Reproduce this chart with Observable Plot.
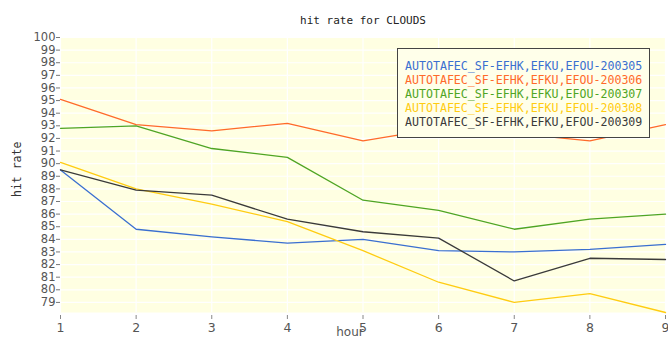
<!DOCTYPE html>
<html>
<head>
<meta charset="utf-8">
<script src="https://cdn.jsdelivr.net/npm/d3@7"></script>
<script src="https://cdn.jsdelivr.net/npm/@observablehq/plot@0.6"></script>
<style>
  body { margin: 0; background: #fff; }
  #wrap { position: relative; width: 668px; height: 342px; }
  #legend {
    position: absolute; left: 397px; top: 48px; width: 253px; height: 90px;
    border: 1.5px solid #444; background: #ffffea; box-sizing: border-box;
    font-family: "DejaVu Sans Mono", monospace; font-size: 11.6px; line-height: 14px;
    padding: 10px 0 0 7px; white-space: nowrap;
  }
</style>
</head>
<body>
<div id="wrap"></div>
<script>
const hours = [1, 2, 3, 4, 5, 6, 7, 8, 9];
const seriesNames = [
  "AUTOTAFEC_SF-EFHK,EFKU,EFOU-200305",
  "AUTOTAFEC_SF-EFHK,EFKU,EFOU-200306",
  "AUTOTAFEC_SF-EFHK,EFKU,EFOU-200307",
  "AUTOTAFEC_SF-EFHK,EFKU,EFOU-200308",
  "AUTOTAFEC_SF-EFHK,EFKU,EFOU-200309"
];
const seriesColors = ["#3a6fd0", "#ff6a2a", "#4fa524", "#ffcc11", "#3a3a3a"];
const v200305 = [89.5, 84.8, 84.2, 83.7, 84.0, 83.1, 83.0, 83.2, 83.6];
const v200306 = [95.1, 93.1, 92.6, 93.2, 91.8, 92.8, 92.4, 91.8, 93.1];
const v200307 = [92.8, 93.0, 91.2, 90.5, 87.1, 86.3, 84.8, 85.6, 86.0];
const v200308 = [90.1, 88.0, 86.8, 85.4, 83.1, 80.6, 79.0, 79.7, 78.2];
const v200309 = [89.5, 87.9, 87.5, 85.6, 84.6, 84.1, 80.7, 82.5, 82.4];
const yTicks = d3.range(79, 101);
const title = "hit rate for CLOUDS";

const allValues = [v200305, v200306, v200307, v200308, v200309];
const data = [];
allValues.forEach((vals, s) => vals.forEach((v, i) => data.push({hour: hours[i], value: v, series: seriesNames[s]})));

const mono = "DejaVu Sans Mono, monospace";
const sans = "DejaVu Sans, sans-serif";

const chart = Plot.plot({
  width: 668,
  height: 342,
  marginLeft: 60,
  marginRight: 3,
  marginTop: 37,
  marginBottom: 30,
  style: {background: "#fff", fontFamily: sans},
  x: {domain: [1, 9]},
  y: {domain: [78.2, 100]},
  color: {domain: seriesNames, range: seriesColors},
  marks: [
    Plot.frame({fill: "#ffffe2", stroke: "none"}),
    Plot.gridY(yTicks, {stroke: "#fff", strokeOpacity: 1, strokeWidth: 1.2}),
    Plot.gridX(hours, {stroke: "#fff", strokeOpacity: 1, strokeWidth: 1.2}),
    Plot.axisY(yTicks, {tickSize: 4, tickPadding: 1, fontSize: 11.5, fill: "#555", stroke: "#777", label: null}),
    Plot.axisX(hours, {tickSize: 4, tickPadding: 4, dy: 3, fontSize: 12.5, fill: "#555", stroke: "#888", label: null}),
    Plot.line(data, {x: "hour", y: "value", z: "series", stroke: "series", strokeWidth: 1.3}),
    Plot.text([title], {frameAnchor: "top", dy: -21, fontFamily: mono, fontSize: 11, fill: "#222"}),
    Plot.text(["hour"], {frameAnchor: "bottom", dx: -13, dy: 23, fontFamily: sans, fontSize: 12, fill: "#555"}),
    Plot.text(["hit rate"], {frameAnchor: "left", dx: -43, dy: 22, rotate: -90, fontFamily: mono, fontSize: 11.5, fill: "#333"})
  ]
});

const wrap = document.getElementById("wrap");
wrap.appendChild(chart);
const legend = document.createElement("div");
legend.id = "legend";
seriesNames.forEach((n, i) => {
  const d = document.createElement("div");
  d.textContent = n;
  d.style.color = seriesColors[i];
  legend.appendChild(d);
});
wrap.appendChild(legend);
</script>
</body>
</html>
